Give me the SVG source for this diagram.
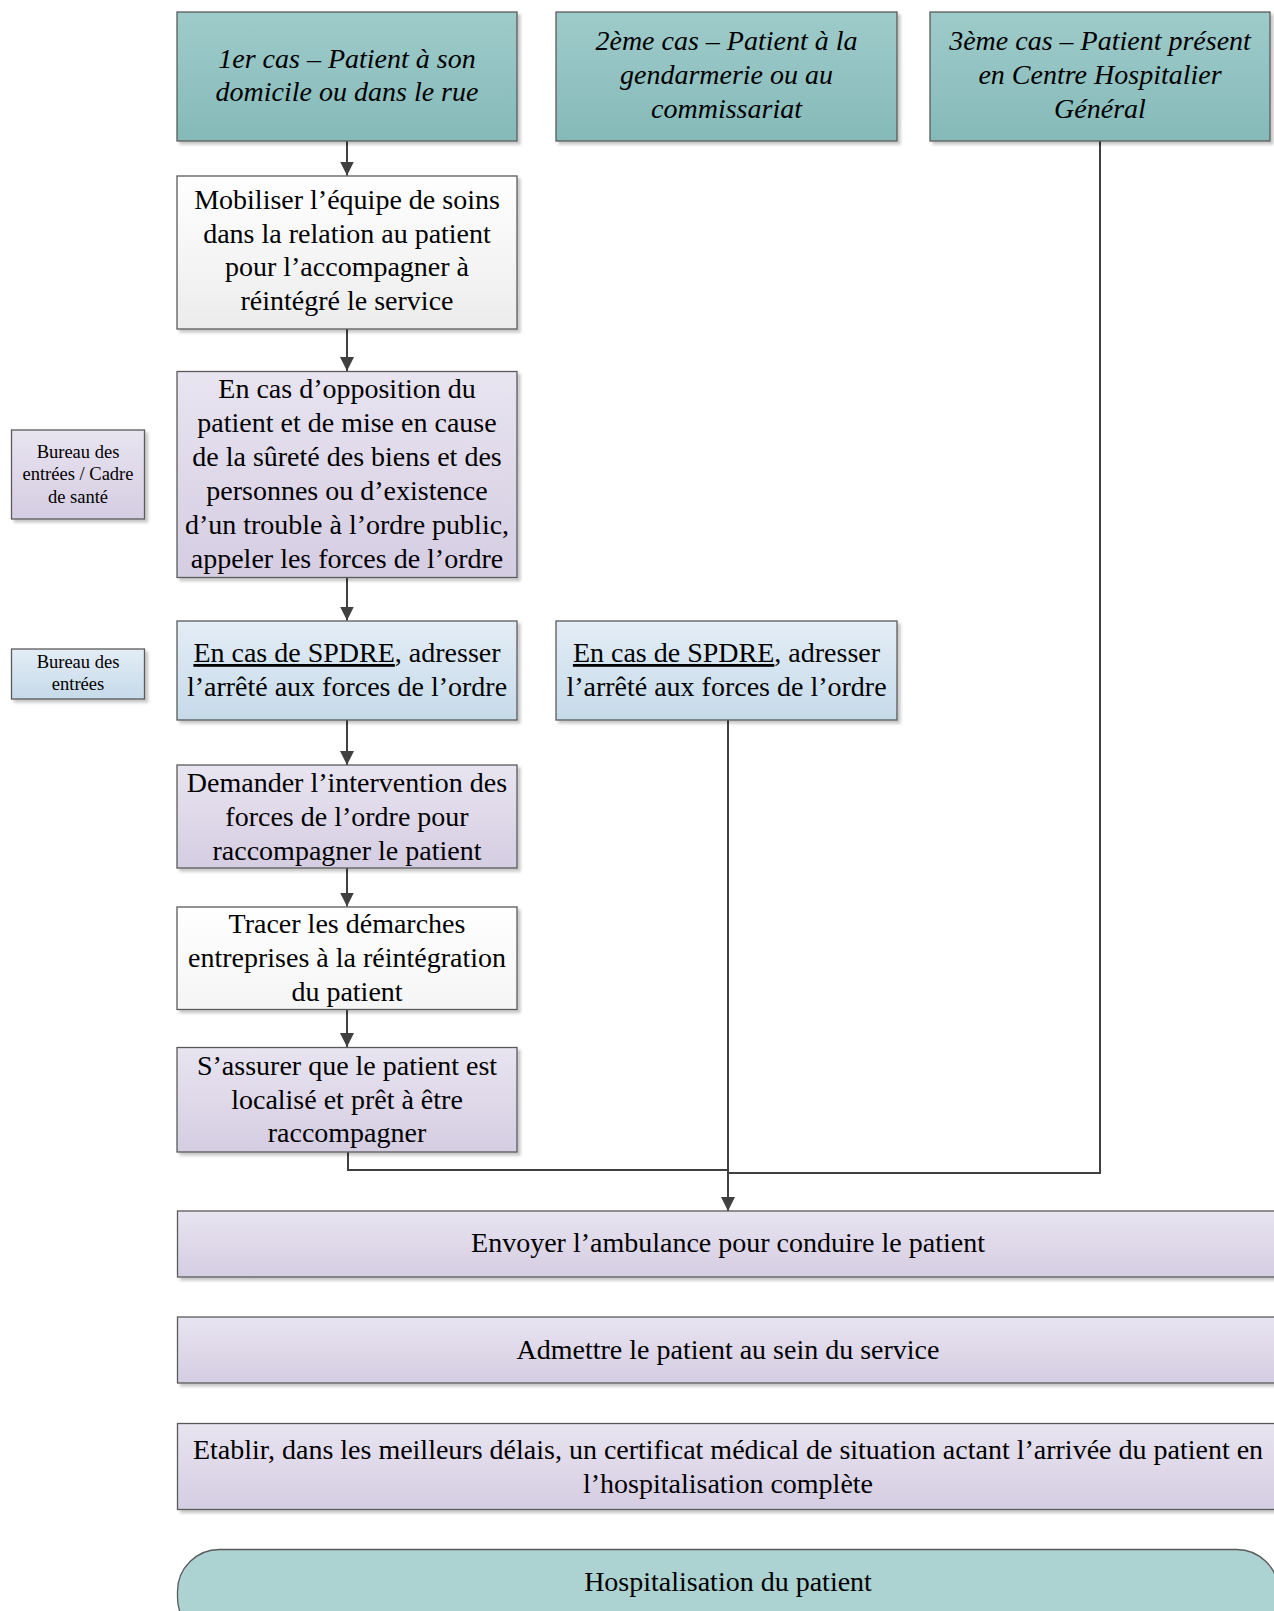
<svg xmlns="http://www.w3.org/2000/svg" width="1274" height="1611" viewBox="0 0 1274 1611">
<style>
text{font-family:"Liberation Serif","Times New Roman",serif;fill:#000;text-anchor:middle}
.t{font-size:28px}
.it{font-size:28px;font-style:italic}
.s{font-size:18.5px}
.box{stroke:#5a5a5a;stroke-width:1.3}
.con{fill:none;stroke:#404040;stroke-width:2}
</style>
<defs>
<linearGradient id="gTeal" x1="0" y1="0" x2="0" y2="1"><stop offset="0" stop-color="#9ecbca"/><stop offset="1" stop-color="#85bab9"/></linearGradient>
<linearGradient id="gWhite" x1="0" y1="0" x2="0" y2="1"><stop offset="0" stop-color="#ffffff"/><stop offset="1" stop-color="#ececec"/></linearGradient>
<linearGradient id="gWhite2" x1="0" y1="0" x2="0" y2="1"><stop offset="0" stop-color="#ffffff"/><stop offset="1" stop-color="#f5f5f5"/></linearGradient>
<linearGradient id="gPurple" x1="0" y1="0" x2="0" y2="1"><stop offset="0" stop-color="#e8e4f0"/><stop offset="1" stop-color="#d5cde2"/></linearGradient>
<linearGradient id="gBlue" x1="0" y1="0" x2="0" y2="1"><stop offset="0" stop-color="#e3edf6"/><stop offset="1" stop-color="#c6dae9"/></linearGradient>
<filter id="sh" x="-5%" y="-5%" width="115%" height="130%"><feDropShadow dx="3" dy="3" stdDeviation="1.5" flood-color="#000" flood-opacity="0.22"/></filter>
<marker id="arr" markerUnits="userSpaceOnUse" viewBox="0 0 14 14" markerWidth="14" markerHeight="14" refX="14" refY="7" orient="auto"><path d="M0,0 L14,7 L0,14 z" fill="#404040"/></marker>
</defs>

<g id="connectors">
<line class="con" x1="347" y1="141" x2="347" y2="175.5" marker-end="url(#arr)"/>
<line class="con" x1="347" y1="329" x2="347" y2="371" marker-end="url(#arr)"/>
<line class="con" x1="347" y1="577.5" x2="347" y2="620.5" marker-end="url(#arr)"/>
<line class="con" x1="347" y1="720" x2="347" y2="765" marker-end="url(#arr)"/>
<line class="con" x1="347" y1="868" x2="347" y2="906.5" marker-end="url(#arr)"/>
<line class="con" x1="347" y1="1009.5" x2="347" y2="1047" marker-end="url(#arr)"/>
<polyline class="con" points="348,1152 348,1170 728,1170"/>
<polyline class="con" points="1100,141 1100,1173 728,1173"/>
<line class="con" x1="728" y1="720" x2="728" y2="1211" marker-end="url(#arr)"/>
</g>

<g id="case1">
<rect class="box" x="177" y="12" width="340" height="129" fill="url(#gTeal)" filter="url(#sh)"/>
<text class="it"><tspan x="347" y="68">1er cas – Patient à son</tspan><tspan x="347" y="101">domicile ou dans le rue</tspan></text>
</g>
<g id="case2">
<rect class="box" x="556" y="12" width="341" height="129" fill="url(#gTeal)" filter="url(#sh)"/>
<text class="it"><tspan x="726.5" y="50">2ème cas – Patient à la</tspan><tspan x="726.5" y="84">gendarmerie ou au</tspan><tspan x="726.5" y="118">commissariat</tspan></text>
</g>
<g id="case3">
<rect class="box" x="930" y="12" width="340" height="129" fill="url(#gTeal)" filter="url(#sh)"/>
<text class="it"><tspan x="1100" y="50">3ème cas – Patient présent</tspan><tspan x="1100" y="84">en Centre Hospitalier</tspan><tspan x="1100" y="118">Général</tspan></text>
</g>

<g id="mobiliser">
<rect class="box" x="177" y="176" width="340" height="153" fill="url(#gWhite)" filter="url(#sh)"/>
<text class="t"><tspan x="347" y="209">Mobiliser l’équipe de soins</tspan><tspan x="347" y="243">dans la relation au patient</tspan><tspan x="347" y="276">pour l’accompagner à</tspan><tspan x="347" y="310">réintégré le service</tspan></text>
</g>

<g id="opposition">
<rect class="box" x="177" y="371.5" width="340" height="206" fill="url(#gPurple)" filter="url(#sh)"/>
<text class="t"><tspan x="347" y="398">En cas d’opposition du</tspan><tspan x="347" y="432">patient et de mise en cause</tspan><tspan x="347" y="466">de la sûreté des biens et des</tspan><tspan x="347" y="500">personnes ou d’existence</tspan><tspan x="347" y="534">d’un trouble à l’ordre public,</tspan><tspan x="347" y="568">appeler les forces de l’ordre</tspan></text>
</g>

<g id="bureau-cadre">
<rect class="box" x="11.5" y="430" width="133" height="89" fill="url(#gPurple)" filter="url(#sh)"/>
<text class="s"><tspan x="78" y="458">Bureau des</tspan><tspan x="78" y="480">entrées / Cadre</tspan><tspan x="78" y="502.5">de santé</tspan></text>
</g>

<g id="spdre1">
<rect class="box" x="177" y="621" width="340" height="99" fill="url(#gBlue)" filter="url(#sh)"/>
<text class="t"><tspan x="347" y="662"><tspan text-decoration="underline">En cas de SPDRE</tspan>, adresser</tspan><tspan x="347" y="696">l’arrêté aux forces de l’ordre</tspan></text>
</g>

<g id="bureau-entrees">
<rect class="box" x="11.5" y="649" width="133" height="50" fill="url(#gBlue)" filter="url(#sh)"/>
<text class="s"><tspan x="78" y="668">Bureau des</tspan><tspan x="78" y="690">entrées</tspan></text>
</g>

<g id="spdre2">
<rect class="box" x="556" y="621" width="341" height="99" fill="url(#gBlue)" filter="url(#sh)"/>
<text class="t"><tspan x="726.5" y="662"><tspan text-decoration="underline">En cas de SPDRE</tspan>, adresser</tspan><tspan x="726.5" y="696">l’arrêté aux forces de l’ordre</tspan></text>
</g>

<g id="demander">
<rect class="box" x="177" y="765" width="340" height="103" fill="url(#gPurple)" filter="url(#sh)"/>
<text class="t"><tspan x="347" y="792">Demander l’intervention des</tspan><tspan x="347" y="826">forces de l’ordre pour</tspan><tspan x="347" y="860">raccompagner le patient</tspan></text>
</g>

<g id="tracer">
<rect class="box" x="177" y="907" width="340" height="102.5" fill="url(#gWhite2)" filter="url(#sh)"/>
<text class="t"><tspan x="347" y="932.5">Tracer les démarches</tspan><tspan x="347" y="966.5">entreprises à la réintégration</tspan><tspan x="347" y="1000.5">du patient</tspan></text>
</g>

<g id="assurer">
<rect class="box" x="177" y="1047.5" width="340" height="104.5" fill="url(#gPurple)" filter="url(#sh)"/>
<text class="t"><tspan x="347" y="1074.5">S’assurer que le patient est</tspan><tspan x="347" y="1108.5">localisé et prêt à être</tspan><tspan x="347" y="1142">raccompagner</tspan></text>
</g>

<g id="envoyer">
<rect class="box" x="177.5" y="1211" width="1101" height="66" fill="url(#gPurple)" filter="url(#sh)"/>
<text class="t" x="728" y="1252">Envoyer l’ambulance pour conduire le patient</text>
</g>

<g id="admettre">
<rect class="box" x="177.5" y="1317" width="1101" height="66" fill="url(#gPurple)" filter="url(#sh)"/>
<text class="t" x="728" y="1359">Admettre le patient au sein du service</text>
</g>

<g id="etablir">
<rect class="box" x="177.5" y="1423.5" width="1101" height="86" fill="url(#gPurple)" filter="url(#sh)"/>
<text class="t"><tspan x="728" y="1458.5">Etablir, dans les meilleurs délais, un certificat médical de situation actant l’arrivée du patient en</tspan><tspan x="728" y="1492.5">l’hospitalisation complète</tspan></text>
</g>

<g id="hospitalisation">
<rect class="box" x="177.5" y="1549.5" width="1101" height="90" rx="42" ry="42" fill="#acd2d1"/>
<text class="t" x="728" y="1591">Hospitalisation du patient</text>
</g>
</svg>
